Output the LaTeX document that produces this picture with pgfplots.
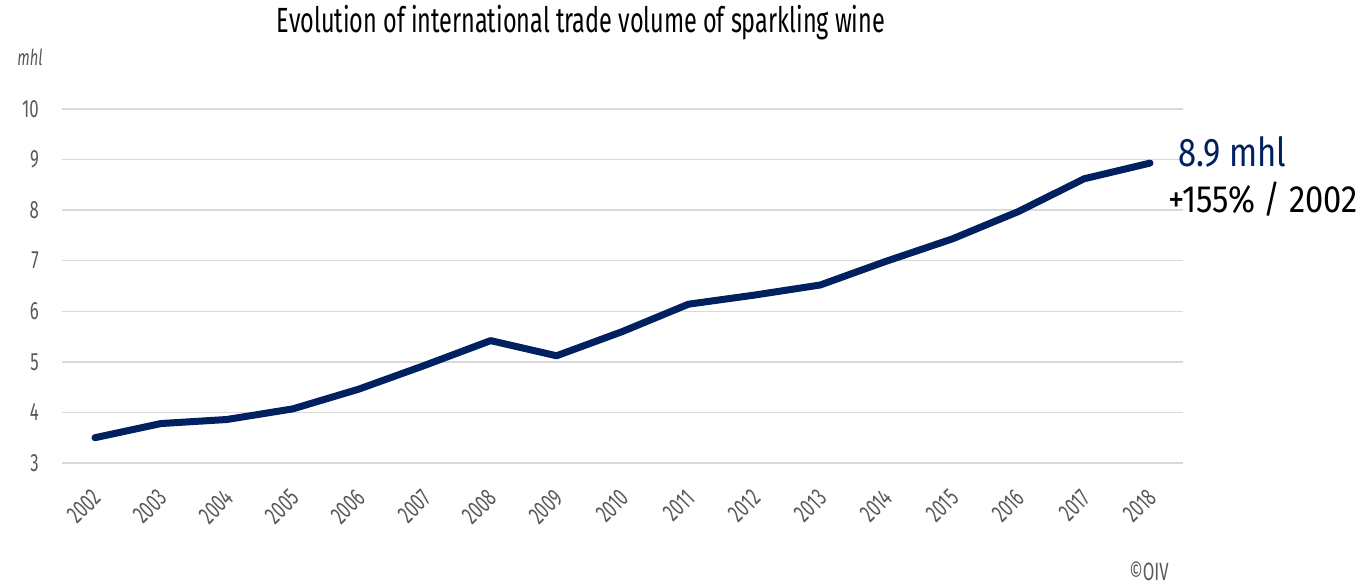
\documentclass[border=0pt]{standalone}
\usepackage{pgfplots}
\pgfplotsset{compat=1.18}
\usepackage{fontspec}
\setmainfont{Fira Sans}[FakeStretch=0.67]
\newfontfamily\annfont{Fira Sans}[FakeStretch=0.82]
\newfontfamily\annfontb{Fira Sans}[FakeStretch=0.86]
\definecolor{navy}{HTML}{002060}
\definecolor{gridgray}{HTML}{D9D9D9}
\definecolor{txtgray}{HTML}{595959}
\pgfplotstableread{
idx year value
0 2002 3.50
1 2003 3.78
2 2004 3.86
3 2005 4.07
4 2006 4.46
5 2007 4.93
6 2008 5.42
7 2009 5.12
8 2010 5.60
9 2011 6.14
10 2012 6.32
11 2013 6.52
12 2014 6.99
13 2015 7.43
14 2016 7.97
15 2017 8.62
16 2018 8.93
}\datatable
\begin{document}
\begin{tikzpicture}[x=1pt,y=1pt]
\useasboundingbox (0,0) rectangle (1366,585);
\begin{axis}[
  at={(62pt,122pt)}, anchor=south west,
  scale only axis, width=1121pt, height=354pt,
  xmin=-0.5, xmax=16.5, ymin=3, ymax=10,
  axis line style={draw=none},
  major tick length=0pt,
  ytick={3,4,...,10},
  ymajorgrids, grid style={gridgray, line width=1.5pt},
  xtick={0,...,16},
  xticklabels={2002,2003,2004,2005,2006,2007,2008,2009,2010,2011,2012,2013,2014,2015,2016,2017,2018},
  xticklabel style={font=\fontsize{25}{27}\selectfont, text=txtgray, inner sep=0pt, xshift=2pt, yshift=-31pt, rotate=45, anchor=east},
  yticklabel style={font=\fontsize{25}{27}\selectfont, text=txtgray, inner sep=0pt, xshift=-23pt, anchor=east},
  /pgf/number format/assume math mode=true,
  clip=false,
]
\addplot[navy, line width=7pt, line cap=round, line join=round] table[x=idx, y=value] {\datatable};
\end{axis}
\node[anchor=base, inner sep=0pt, font=\fontsize{35}{38}\selectfont] at (581,552) {Evolution of international trade volume of sparkling wine};
\node[anchor=center, font=\fontsize{22}{24}\selectfont\itshape, text=txtgray] at (30,528) {mhl};
\node[anchor=west, inner sep=0pt, font=\annfont\fontsize{40}{44}\selectfont, text=navy] at (1178,433) {8.9 mhl};
\node[anchor=west, inner sep=0pt, font=\annfontb\fontsize{38}{40}\selectfont] at (1168,386) {+155\% / 2002};
\node[anchor=center, font=\fontsize{25}{27}\selectfont, text=txtgray] at (1149,14) {©OIV};
\end{tikzpicture}
\end{document}
